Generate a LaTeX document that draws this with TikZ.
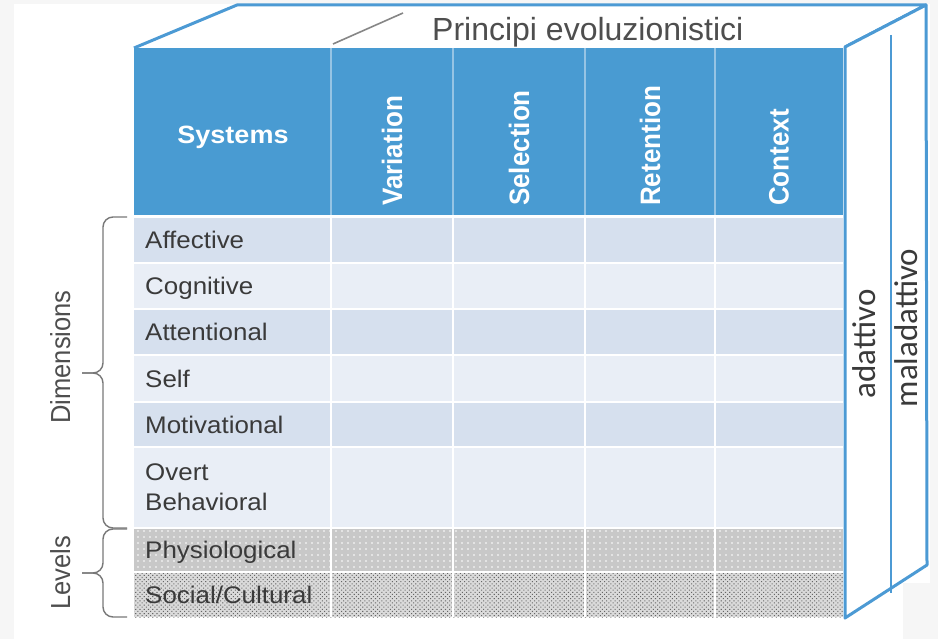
\documentclass[tikz,border=0pt]{standalone}
\usepackage{fontspec}
\setmainfont{Liberation Sans}
\newfontfamily\calibrifont{Carlito}
\usetikzlibrary{positioning, patterns.meta}

\definecolor{hdrblue}{RGB}{73,155,210}
\definecolor{edgeblue}{RGB}{76,154,212}
\definecolor{hdrline}{RGB}{150,196,228}
\definecolor{rowdark}{RGB}{214,224,238}
\definecolor{rowlight}{RGB}{233,238,246}
\definecolor{physgray}{RGB}{200,200,200}
\definecolor{socgray}{RGB}{218,218,218}
\definecolor{txtgray}{RGB}{58,58,58}
\definecolor{bracegray}{RGB}{120,120,120}
\definecolor{bggray}{RGB}{246,246,246}

\begin{document}
\begin{tikzpicture}[x=1pt, y=-1pt,
  rowlbl/.style={anchor=base west, inner sep=0pt, text=txtgray, xscale=1.08, font=\fontsize{24}{30}\selectfont},
  collbl/.style={anchor=west, inner sep=0pt, text=white, xscale=1.08, rotate=90, font=\fontsize{26}{30}\selectfont\bfseries},
  sidelbl/.style={anchor=base, inner sep=0pt, text=txtgray!90, xscale=1.08, rotate=90, font=\fontsize{25.5}{30}\selectfont},
  adlbl/.style={anchor=base, inner sep=0pt, text=txtgray, rotate=90, font=\fontsize{33}{36}\calibrifont},
  brc/.style={draw=bracegray, line width=1.4pt, rounded corners=10pt},
  boxedge/.style={draw=edgeblue, line width=3pt, line join=round}
]
  % page
  \fill[bggray] (0,0) rectangle (938,639);
  \fill[white] (14,4) rectangle (930,639);
  \fill[bggray] (903,583) rectangle (938,639);
  \useasboundingbox (0,0) rectangle (938,639);

  % box faces
  \filldraw[boxedge, fill=white] (134,48) -- (237,5) -- (926,5) -- (845,47);
  \filldraw[boxedge, fill=white] (845,47) -- (926,5) -- (927,565) -- (845,618) -- cycle;
  \draw[edgeblue, line width=2.5pt] (891,35) -- (891,593);

  % header
  \fill[hdrblue] (134,48) rectangle (843,215);
  \foreach \xx in {331,453,585,715}
    \draw[hdrline, line width=1.5pt] (\xx,48) -- (\xx,215);

  % rows
  \foreach \top/\bot/\col in {218/263/rowdark, 263/309/rowlight, 309/355/rowdark, 355/402/rowlight, 402/447/rowdark, 447/528/rowlight}
    \fill[\col] (134,\top) rectangle (843,\bot);
  \fill[physgray, postaction={pattern={Dots[distance=6pt, radius=0.9pt]}, pattern color=white}] (134,528) rectangle (843,572);
  \fill[socgray, postaction={pattern={Dots[distance=3pt, angle=45, radius=0.75pt]}, pattern color=black!60}] (134,572) rectangle (843,617);
  \foreach \yy in {263,309,355,402,447,528,572}
    \draw[white, line width=2pt] (134,\yy) -- (843,\yy);
  \foreach \xx in {331,453,585,715}
    \draw[white, line width=1.5pt] (\xx,218) -- (\xx,617);

  % header labels
  \node[anchor=base, inner sep=0pt, text=white, xscale=1.08, font=\fontsize{25}{30}\selectfont\bfseries] (sys) at (233,144) {Systems};
  \node[collbl] (var) at (392,206) {Variation};
  \node[collbl] (sel) at (519,206) {Selection};
  \node[collbl] (ret) at (650,206) {Retention};
  \node[collbl] (ctx) at (779,206) {Context};

  % row labels
  \node[rowlbl] (aff) at (145,249) {Affective};
  \node[rowlbl] (cog) at (145,295) {Cognitive};
  \node[rowlbl] (att) at (145,341) {Attentional};
  \node[rowlbl] (slf) at (145,387) {Self};
  \node[rowlbl] (mot) at (145,433) {Motivational};
  \node[rowlbl] (ovt) at (145,480) {Overt};
  \node[rowlbl] (beh) at (145,510) {Behavioral};
  \node[rowlbl] (phy) at (145,558) {Physiological};
  \node[rowlbl] (soc) at (145,603) {Social/Cultural};

  % title and pointer
  \node[anchor=base west, inner sep=0pt, text=txtgray!90, font=\fontsize{32}{36}\selectfont] (princ) at (432,41) {Principi evoluzionistici};
  \coordinate (ptrfoot) at (333,44);
  \coordinate (ptrhead) at (403,13);
  \draw[bracegray!90, line width=1.6pt] (ptrfoot) -- (ptrhead);

  % braces
  \coordinate (dimtip) at (82,373);
  \coordinate (levtip) at (82,573);
  \draw[brc] (127,217) -- (103,217) -- (103,373) -- (dimtip);
  \draw[brc] (dimtip) -- (103,373) -- (103,528) -- (127,528);
  \draw[brc] (127,529) -- (103,529) -- (103,573) -- (levtip);
  \draw[brc] (levtip) -- (103,573) -- (103,617) -- (127,617);
  \node[sidelbl] (dimlbl) at (70,357) {Dimensions};
  \node[sidelbl] (levlbl) at (70,573) {Levels};

  % right face labels
  \node[adlbl] (adat) at (875,344) {adattivo};
  \node[adlbl] (malad) at (917,328) {maladattivo};
\end{tikzpicture}
\end{document}
